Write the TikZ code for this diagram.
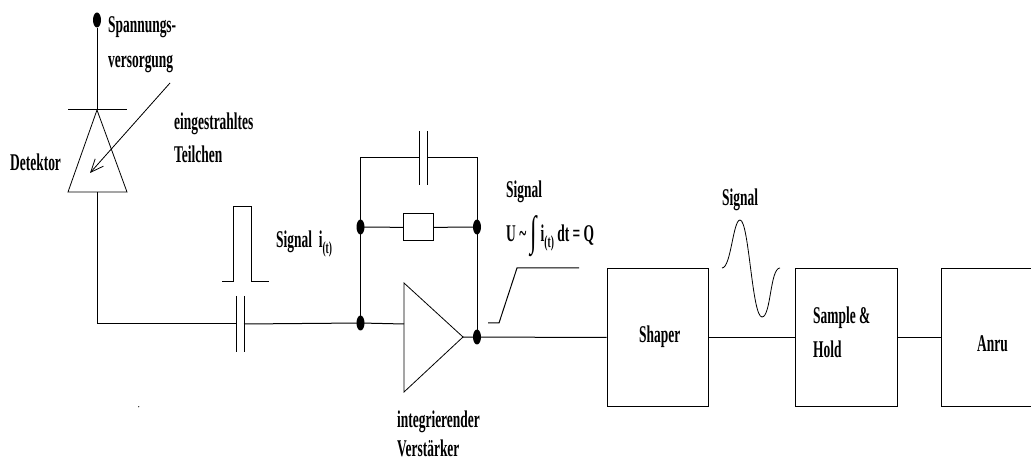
\documentclass[tikz,border=0pt]{standalone}
\usepackage{fontspec}
\setmainfont{Liberation Serif}[FakeStretch=0.56]
\usetikzlibrary{shapes.geometric,arrows.meta}
\tikzset{
  wire/.style={line width=1pt,black,line join=miter},
  thin wire/.style={line width=0.8pt,black},
  dot/.style={ellipse,fill=black,draw=none,inner sep=0pt,minimum width=8pt,minimum height=15pt},
  blockbox/.style={draw=black,line width=1pt,inner sep=0pt,fill=none},
  lab/.style={anchor=base west,inner sep=0pt,font=\fontsize{24}{24}\selectfont\bfseries},
}
\newcommand{\tsub}{\raisebox{-6pt}{\fontsize{17}{17}\selectfont (t)}}
\begin{document}
\begin{tikzpicture}[x=1pt,y=-1pt]
\useasboundingbox (0,0) rectangle (1031,462);
% detector
\node[dot] (vcc) at (97,20) {};
\coordinate (dtop) at (97,110);
\coordinate (dl) at (68,192);
\coordinate (dr) at (127,192);
\coordinate (dbot) at (97,192);
\coordinate (barl) at (68,110);
\coordinate (barr) at (127,110);
\draw[wire] (vcc) -- (dtop);
\draw[wire] (barl) -- (barr);
\draw[thin wire] (dtop) -- (dl) -- (dr) -- cycle;
\coordinate (corner) at (97,324);
\coordinate (c1a) at (236.5,324);
\coordinate (c1b) at (244,324);
\draw[wire] (dbot) -- (corner) -- (c1a);
\draw[thin wire] (236.5,296) -- (236.5,352);
\draw[thin wire] (244,296) -- (244,352);
% particle arrow
\coordinate (pa) at (170,83);
\coordinate (pb) at (90,173);
\draw[thin wire,-{Straight Barb[length=13pt,width=11pt]}] (pa) -- (pb);
% pulse
\draw[wire] (222,282) -- (233,282) -- (233,206.5) -- (251,206.5) -- (251,282) -- (269,282);
% amplifier
\node[dot] (in) at (360.5,323) {};
\node[dot] (out) at (477,337) {};
\node[dot] (fl) at (360.5,227) {};
\node[dot] (fr) at (477,227) {};
\coordinate (ampt) at (404,283);
\coordinate (ampb) at (404,392);
\coordinate (ampo) at (463,337);
\coordinate (ampi) at (404,324);
\draw[thin wire] (ampt) -- (ampo) -- (ampb) -- cycle;
\draw[wire] (c1b) -- (in.center) -- (ampi);
% feedback
\coordinate (tl) at (360.5,158);
\coordinate (tr) at (477,158);
\coordinate (c2a) at (419,158);
\coordinate (c2b) at (427,158);
\draw[wire] (in.center) -- (tl) -- (c2a);
\draw[wire] (c2b) -- (tr) -- (out.center);
\draw[thin wire] (419,131) -- (419,185);
\draw[thin wire] (427,131) -- (427,185);
\node[blockbox,minimum width=29.5pt,minimum height=27pt] (res) at (418.7,227.5) {};
\draw[wire] (fl.center) -- (res);
\draw[wire] (res) -- (fr.center);
% integrated step
\draw[wire] (488,323) -- (499,323) -- (517,268) -- (579,268);
% chain
\node[blockbox,minimum width=101pt,minimum height=138pt] (shaper) at (657.5,337.5) {};
\node[blockbox,minimum width=102pt,minimum height=138pt] (sh) at (846,337.5) {};
\coordinate (an) at (941,337.5);
\draw[wire] (1031,268.5) -- (941,268.5) -- (941,406.5) -- (1031,406.5);
\draw[wire] (ampo) -- (shaper.west);
\draw[wire] (shaper.east) -- (sh.west);
\draw[wire] (sh.east) -- (an);
% shaped signal
\draw[thin wire] (722,268) .. controls (731,268) and (733,220) .. (740,220)
  .. controls (749,220) and (752,317) .. (762,317)
  .. controls (771,317) and (770,268) .. (780,268);
% stray speck
\fill (138.7,406.7) circle (0.6);
% labels
\node[lab] (t1) at (108,33) {Spannungs-};
\node[lab] (t2) at (108,68) {versorgung};
\node[lab] (t3) at (174,130) {eingestrahltes};
\node[lab] (t4) at (174,163) {Teilchen};
\node[lab] (t5) at (10,171) {Detektor};
\node[lab] (t6) at (276,248) {Signal\ \ i\tsub};
\node[lab] (t7) at (506,198) {Signal};
\node[lab] (t8) at (506,242) {U \textasciitilde\,\raisebox{-4pt}[0pt][0pt]{\fontsize{42}{42}\selectfont\mdseries ∫}\,i\tsub\ dt = Q};
\node[lab] (t9) at (722,206) {Signal};
\node[lab] (t10) at (639,343) {Shaper};
\node[lab] (t11) at (813,324) {Sample \&};
\node[lab] (t12) at (813,358) {Hold};
\node[lab] (t13) at (977,352) {Anru};
\node[lab] (t14) at (397,427) {integrierender};
\node[lab] (t15) at (397,456.5) {Verstärker};
\end{tikzpicture}
\end{document}
